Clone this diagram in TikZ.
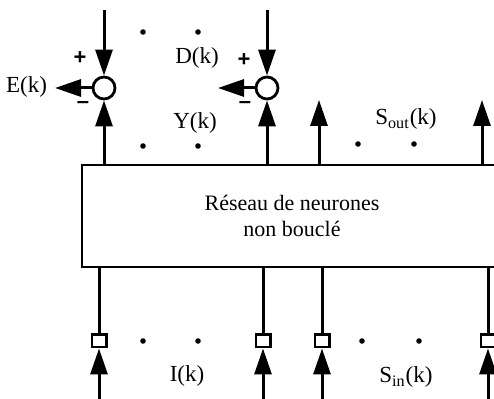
\documentclass[tikz,border=0pt]{standalone}
\usepackage{fontspec}
\setmainfont{Liberation Serif}
\newfontfamily\signfont{Liberation Sans}
\usetikzlibrary{arrows.meta,calc}
\tikzset{
  arr/.style={line width=1.5pt,-{Triangle[length=13pt,width=8.5pt]}},
  wire/.style={line width=1.5pt},
  summer/.style={circle,draw,line width=1.4pt,minimum size=11pt,inner sep=0pt},
  delay/.style={rectangle,draw,line width=1.2pt,minimum width=7.3pt,minimum height=6.3pt,inner sep=0pt},
  pt/.style={circle,fill,inner sep=0pt,minimum size=2.8pt},
  lab/.style={font=\fontsize{11.5}{13.5}\selectfont},
  sgn/.style={font=\signfont\bfseries\fontsize{11}{13}\selectfont}
}
\begin{document}
\begin{tikzpicture}[x=0.5pt,y=-0.5pt]
  \clip (0,0) rectangle (494,399);
  % Network
  \node[draw,line width=1.4pt,minimum width=210pt,minimum height=51pt,align=center,font=\fontsize{11}{13}\selectfont] (net) at (292,216) {R\'eseau de neurones\\non boucl\'e};
  % Comparators
  \node[summer] (s1) at (104,88) {};
  \node[summer] (s2) at (267,88) {};
  \coordinate (d1) at (104,10);
  \coordinate (d2) at (267,10);
  \coordinate (e1) at (55,88);
  \coordinate (e2) at (218,88);
  \draw[arr] (d1) -- (s1);
  \draw[arr] (d2) -- (s2);
  \draw[arr] (s1 |- net.north) -- (s1);
  \draw[arr] (s2 |- net.north) -- (s2);
  \draw[arr] (s1) -- (e1);
  \draw[arr] (s2) -- (e2);
  \node[sgn] (p1) at (80,58) {+};
  \node[sgn] (p2) at (244,60) {+};
  \node[sgn] (m1) at (83,105) {\textendash};
  \node[sgn] (m2) at (245,105) {\textendash};
  \node[lab,anchor=east] (lE) at (54,87) {E(k)};
  \node[lab] (lD) at (197,58) {D(k)};
  \node[lab] (lY) at (195,123) {Y(k)};
  % State outputs
  \coordinate (o3) at (319,100);
  \coordinate (o4) at (482,100);
  \draw[arr] (o3 |- net.north) -- (o3);
  \draw[arr] (o4 |- net.north) -- (o4);
  \node[lab] (lSo) at (406,119) {S\textsubscript{out}(k)};
  % Inputs with delays
  \foreach \n/\x in {1/99,2/263,3/322,4/488}{
    \node[delay] (q\n) at (\x,341) {};
    \coordinate (b\n) at (\x,402);
    \draw[wire] (q\n |- net.south) -- (q\n);
    \draw[arr] (b\n) -- (q\n);
  }
  \node[lab] (lI) at (187,376) {I(k)};
  \node[lab] (lSi) at (406,377) {S\textsubscript{in}(k)};
  % Ellipsis dots
  \foreach \n/\x/\y in {1/143/32,2/198/32,3/143/146,4/198/146,5/358/144,6/414/144,7/143/341,8/198/341,9/362/341,10/419/341}
    \node[pt] (dot\n) at (\x,\y) {};
\end{tikzpicture}
\end{document}
